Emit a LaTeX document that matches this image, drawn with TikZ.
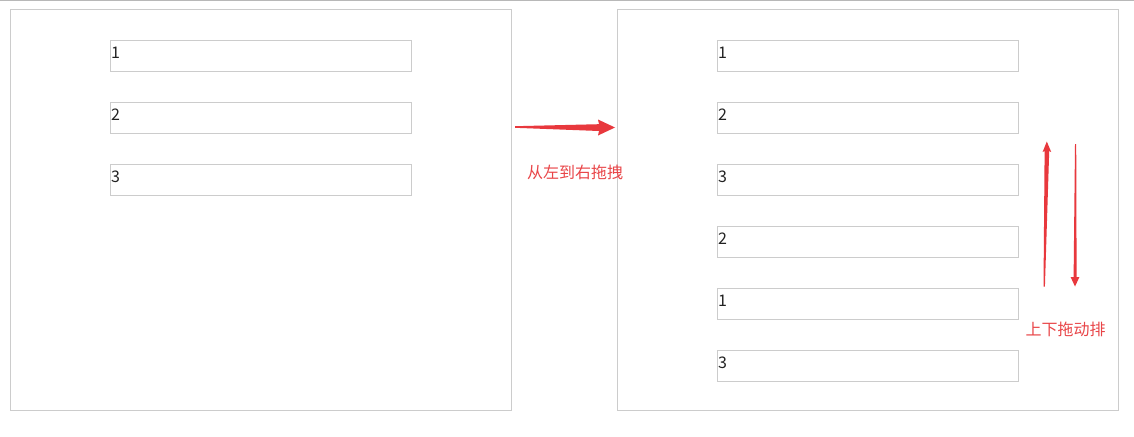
\documentclass[tikz,border=0pt]{standalone}
\usepackage{fontspec}
\setmainfont{Noto Sans CJK SC}
\usetikzlibrary{calc}
\definecolor{boxgray}{HTML}{CCCCCC}
\definecolor{panelgray}{HTML}{CCCCCC}
\definecolor{arrred}{HTML}{E8383D}
\definecolor{txtred}{HTML}{E94548}
\definecolor{digit}{HTML}{222222}
\tikzset{
  panel/.style={draw=panelgray, line width=1pt, minimum width=501pt, minimum height=401pt, anchor=north west, inner sep=0pt},
  itembox/.style={draw=boxgray, line width=1pt, minimum width=301pt, minimum height=31pt, anchor=north west, inner sep=0pt},
  itemtext/.style={anchor=base west, inner sep=0pt, text=digit, font=\fontsize{16}{18}\selectfont},
  redlabel/.style={text=txtred, inner sep=0pt, font=\fontsize{16}{18}\selectfont},
  redarrow/.style={fill=arrred, draw=none}
}
\begin{document}
\begin{tikzpicture}[x=1pt, y=-1pt]
\useasboundingbox (0,0) rectangle (1134,436);
\fill[white] (0,0) rectangle (1134,436);
\draw[color=boxgray!90!black, line width=1.2pt] (0,0.6) -- (1134,0.6);
% panels
\node[panel] (leftpanel) at (10,9) {};
\node[panel] (rightpanel) at (617,9) {};
% left boxes
\foreach \i/\y/\t in {1/40/1, 2/102/2, 3/164/3}{
  \node[itembox] (l\i) at (110,\y) {};
  \node[itemtext] (lt\i) at ($(l\i.north west)+(1,18.5)$) {\t};
}
% right boxes
\foreach \i/\y/\t in {1/40/1, 2/102/2, 3/164/3, 4/226/2, 5/288/1, 6/350/3}{
  \node[itembox] (r\i) at (717,\y) {};
  \node[itemtext] (rt\i) at ($(r\i.north west)+(1,18.5)$) {\t};
}
% right arrow
\coordinate (rtail) at (515,127);
\coordinate (rtip) at (615,127.5);
\fill[redarrow] ($(rtail)+(0,-0.8)$) -- (599,124.2) -- (598,119.5) -- (rtip) -- (598,135.5) -- (599,131) -- ($(rtail)+(0,0.8)$) -- cycle;
\node[redlabel] (lrlabel) at (575,172.5) {从左到右拖拽};
% up arrow
\coordinate (utail) at (1044.2,286.5);
\coordinate (utip) at (1046.8,141.5);
\fill[redarrow] ($(utail)+(-0.7,0)$) -- (1044.6,151) -- (1042.6,152) -- (utip) -- (1051.2,152) -- (1049.2,151) -- ($(utail)+(0.7,0)$) -- cycle;
% down arrow
\coordinate (dtail) at (1075.6,144);
\coordinate (dtip) at (1075,286.5);
\fill[redarrow] ($(dtail)+(-0.6,0)$) -- (1073.6,277) -- (1070.6,277) -- (dtip) -- (1079.4,277) -- (1076.6,277) -- ($(dtail)+(0.6,0)$) -- cycle;
\node[redlabel] (udlabel) at (1065.5,329) {上下拖动排};
\end{tikzpicture}
\end{document}
